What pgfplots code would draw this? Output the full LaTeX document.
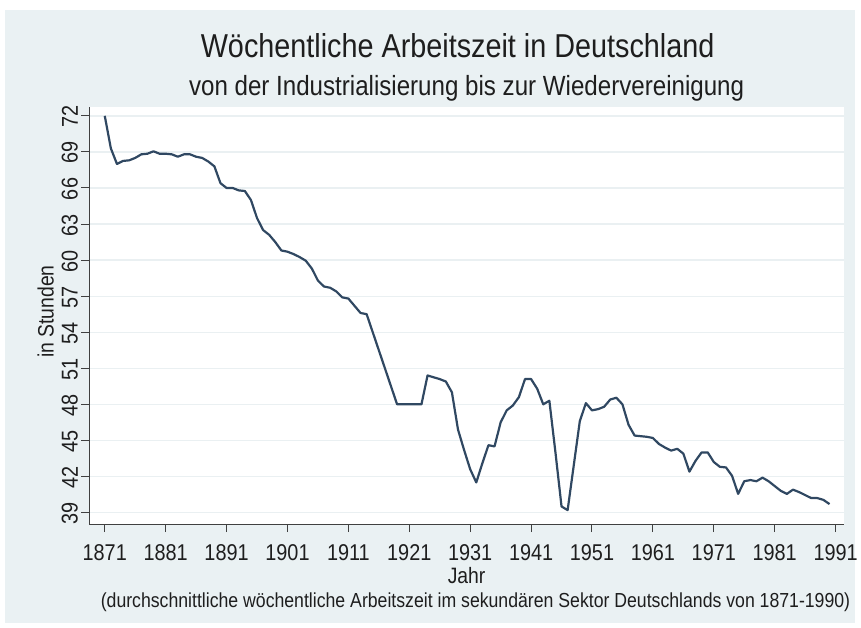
\documentclass[border=0pt]{standalone}
\usepackage{fontspec}
\setmainfont{Liberation Sans}
\usepackage{graphicx}
\usepackage{pgfplots}
\usepackage{pgfplotstable}
\pgfplotsset{compat=1.18}
\definecolor{bgc}{RGB}{234,241,243}
\definecolor{gridc}{RGB}{234,240,242}
\definecolor{linec}{RGB}{48,72,98}
\definecolor{txt}{RGB}{30,30,30}
\newcommand{\st}[1]{\scalebox{1}[1.15]{#1}}
\pgfplotstableread{
year hours
1871 72.0
1872 69.3
1873 68.0
1874 68.25
1875 68.3
1876 68.5
1877 68.8
1878 68.85
1879 69.05
1880 68.85
1881 68.85
1882 68.8
1883 68.6
1884 68.8
1885 68.8
1886 68.6
1887 68.5
1888 68.2
1889 67.8
1890 66.4
1891 66.0
1892 66.0
1893 65.8
1894 65.75
1895 65.0
1896 63.5
1897 62.5
1898 62.1
1899 61.5
1900 60.8
1901 60.7
1902 60.5
1903 60.25
1904 59.95
1905 59.3
1906 58.3
1907 57.8
1908 57.7
1909 57.4
1910 56.9
1911 56.8
1912 56.2
1913 55.6
1914 55.5
1915 54.0
1916 52.5
1917 51.0
1918 49.5
1919 48.0
1920 48.0
1921 48.0
1922 48.0
1923 48.0
1924 50.4
1925 50.25
1926 50.1
1927 49.9
1928 49.0
1929 45.9
1930 44.2
1931 42.6
1932 41.5
1933 43.1
1934 44.6
1935 44.5
1936 46.5
1937 47.5
1938 47.9
1939 48.6
1940 50.1
1941 50.1
1942 49.3
1943 48.0
1944 48.3
1945 44.0
1946 39.5
1947 39.2
1948 42.9
1949 46.6
1950 48.1
1951 47.5
1952 47.6
1953 47.8
1954 48.4
1955 48.55
1956 48.0
1957 46.3
1958 45.4
1959 45.35
1960 45.3
1961 45.2
1962 44.7
1963 44.4
1964 44.15
1965 44.3
1966 43.9
1967 42.4
1968 43.3
1969 44.0
1970 44.0
1971 43.2
1972 42.8
1973 42.75
1974 42.05
1975 40.55
1976 41.6
1977 41.7
1978 41.6
1979 41.9
1980 41.6
1981 41.2
1982 40.8
1983 40.55
1984 40.9
1985 40.7
1986 40.45
1987 40.2
1988 40.2
1989 40.05
1990 39.7
}\datatable
\begin{document}
\begin{tikzpicture}[x=1pt,y=1pt]
\fill[white] (0,0) rectangle (861,632);
\fill[bgc] (5,4) rectangle (861,622);
\begin{axis}[
  at={(90pt,104pt)}, anchor=south west,
  scale only axis, width=760pt, height=420pt,
  xmin=1868.47, xmax=1992.35, ymin=38.03, ymax=72.72,
  axis background/.style={fill=white},
  axis x line*=bottom, axis y line*=left,
  axis line style={line width=1pt, color=black!75, -},
  xtick={1871,1881,...,1991}, ytick={39,42,...,72},
  tick align=outside, major tick length=8pt,
  tick style={line width=1pt, color=black!75},
  ymajorgrids, grid style={line width=1.3pt, color=gridc},
  /pgf/number format/assume math mode=true,
  /pgf/number format/1000 sep={},
  xticklabel={\st{\pgfmathprintnumber{\tick}}},
  yticklabel={\st{\pgfmathprintnumber{\tick}}},
  xticklabel style={font=\fontsize{20}{20}\selectfont, text=txt, yshift=-9pt},
  yticklabel style={font=\fontsize{20}{20}\selectfont, text=txt, rotate=90, anchor=south, xshift=-1pt},
]
\addplot[linec, line width=2.2pt, line join=round] table[x=year,y=hours] {\datatable};
\end{axis}
\node[anchor=base, text=txt, font=\fontsize{29}{30}\selectfont] at (461,574) {\st{Wöchentliche Arbeitszeit in Deutschland}};
\node[anchor=base, text=txt, font=\fontsize{24.3}{26}\selectfont] at (470,536) {\st{von der Industrialisierung bis zur Wiedervereinigung}};
\node[anchor=base, text=txt, font=\fontsize{19.5}{20}\selectfont] at (470,44) {\st{Jahr}};
\node[anchor=base, text=txt, font=\fontsize{17.8}{18}\selectfont] at (479,20) {\st{(durchschnittliche wöchentliche Arbeitszeit im sekundären Sektor Deutschlands von 1871-1990)}};
\node[anchor=center, rotate=90, text=txt, font=\fontsize{19.5}{20}\selectfont] at (46,318) {\st{in Stunden}};
\end{tikzpicture}
\end{document}
